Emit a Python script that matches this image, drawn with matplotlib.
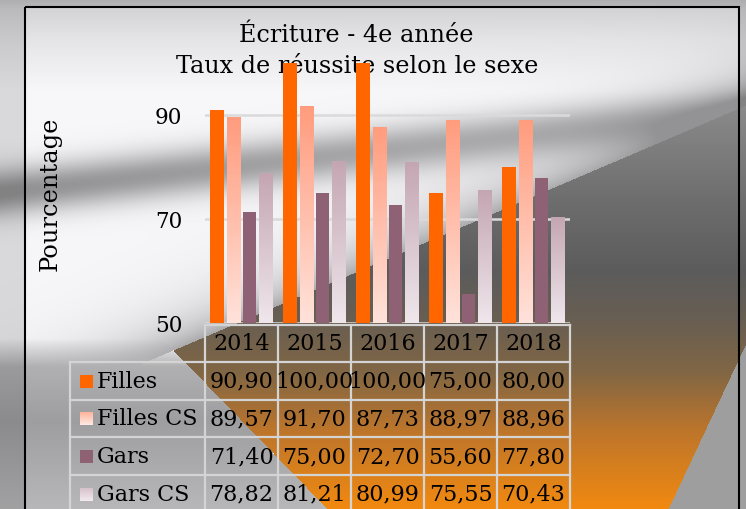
import numpy as np
import matplotlib
matplotlib.use('Agg')
import matplotlib.pyplot as plt
from matplotlib.patches import Rectangle

years = ['2014', '2015', '2016', '2017', '2018']
series = ['Filles', 'Filles CS', 'Gars', 'Gars CS']
filles = [90.90, 100.00, 100.00, 75.00, 80.00]
filles_cs = [89.57, 91.70, 87.73, 88.97, 88.96]
gars = [71.40, 75.00, 72.70, 55.60, 77.80]
gars_cs = [78.82, 81.21, 80.99, 75.55, 70.43]
values = [filles, filles_cs, gars, gars_cs]

# bar styles: (top colour, bottom colour) -> gradient when different
bar_cols = [('#ff6600', '#ff6600'), ('#ff9c7e', '#ffe2da'),
            ('#8e6274', '#8e6274'), ('#c4a6b2', '#efe6ec')]
legend_cols = [('#ff6600', '#ff6600'), ('#ffb49c', '#ffeae4'),
               ('#8e6274', '#8e6274'), ('#d6c2ca', '#f2eaee')]

W, H = 746, 509
plt.rcParams['font.family'] = ['DejaVu Serif']
fig = plt.figure(figsize=(W / 100, H / 100), dpi=100)


def vgrad(top, bot, n=64):
    t = np.array(matplotlib.colors.to_rgb(top))
    b = np.array(matplotlib.colors.to_rgb(bot))
    return np.linspace(0, 1, n)[:, None, None] * (b - t) + t


def background():
    yy, xx = np.mgrid[0:H, 0:W].astype(float)
    g = np.interp(yy, [0, 8, 40, 90, 509], [0.78, 0.83, 0.90, 0.97, 0.97])
    # soft grey swoosh, fading toward the right
    yb = 192 - 0.11 * xx
    depth = 0.40 - 0.18 * xx / W
    g = g - depth * np.exp(-((yy - yb) / 24) ** 2)
    # upper edge of the dark wedge
    y1 = 350 - 0.4276 * (xx - 173)
    d1 = y1 - yy
    g = g - np.where(d1 > 0, 0.30 * np.exp(-d1 / 30), 0)
    g = np.maximum(g, 0.58)
    below = d1 <= 0
    x2 = 173 + (yy - 350) / 1.03
    # grey lower-left area
    t = np.clip((yy - 338) / 28, 0, 1) * (xx < x2)
    gl = np.interp(yy, [360, 420, 509], [0.70, 0.62, 0.72])
    g = g * (1 - t) + gl * t
    img = np.dstack([g, g, g * 1.01])
    # wedge
    x3 = np.where(yy < 343, 9999, 746 - (yy - 343) * 78 / 166)
    wedge = below & (xx > x2) & (xx < x3)
    ys = [100, 200, 270, 320, 370, 430, 509]
    r = np.interp(yy, ys, [0.55, 0.43, 0.36, 0.41, 0.50, 0.74, 0.95])
    gg = np.interp(yy, ys, [0.55, 0.43, 0.36, 0.37, 0.40, 0.46, 0.54])
    b = np.interp(yy, ys, [0.55, 0.43, 0.36, 0.32, 0.27, 0.17, 0.06])
    img = np.where(wedge[..., None], np.dstack([r, gg, b]), img)
    right = below & (xx >= x3)
    img = np.where(right[..., None], 0.62, img)
    # outside the frame
    outside = (xx < 25) | (xx > 739) | (yy < 7)
    img = np.where((outside & ~wedge & ~right)[..., None],
                   np.clip(img * 0.88, 0, 1), img)
    return np.clip(img, 0, 1)


bg = fig.add_axes([0, 0, 1, 1], zorder=0)
bg.imshow(background(), extent=(0, W, H, 0), aspect='auto', interpolation='bilinear')
bg.set_xlim(0, W)
bg.set_ylim(H, 0)
bg.axis('off')
bg.add_patch(Rectangle((25, 7), 714, 520, fill=False, ec='black', lw=1.5))

# titles
fig.text(356 / W, 1 - 42 / H, 'Écriture - 4e année', ha='center', va='baseline',
         fontsize=17.2, zorder=0.5)
fig.text(357 / W, 1 - 73 / H, 'Taux de réussite selon le sexe', ha='center',
         va='baseline', fontsize=17.2, zorder=0.5)
fig.text(50 / W, 1 - 194 / H, 'Pourcentage', rotation=90, ha='center',
         va='center', fontsize=17.4, zorder=0.5)

ax = fig.add_axes([205 / W, 1 - 323 / H, 365 / W, 260 / H], zorder=1)
ax.patch.set_visible(False)
x = np.arange(len(years))
bw = 0.185
for i, vals in enumerate(values):
    top, bot = bar_cols[i]
    bars = ax.bar(x + (i - 1.5) * 0.225, vals, bw, color=top, zorder=2)
    if top != bot:
        grad = vgrad(top, bot)
        for rect in bars:
            rect.set_facecolor('none')
            x0 = rect.get_x()
            im = ax.imshow(grad, extent=(x0, x0 + rect.get_width(), 50, rect.get_height()),
                           aspect='auto', zorder=2, origin='upper')
            im.set_clip_path(rect)
ax.set_xlim(-0.5, 4.5)
ax.set_ylim(50, 100)
ax.set_yticks([50, 70, 90])
ax.set_xticks([])
ax.yaxis.grid(True, color='#dadada', lw=1.8)
ax.set_axisbelow(True)
ax.tick_params(axis='y', length=0, pad=16.5, labelsize=15.5)
for s in ax.spines.values():
    s.set_visible(False)

# data table
ov = fig.add_axes([0, 0, 1, 1], zorder=2)
ov.patch.set_visible(False)
ov.set_xlim(0, W)
ov.set_ylim(H, 0)
ov.axis('off')
lc = '#d4d4d4'
col_x = [205 + 73 * k for k in range(6)]
row_y = [325, 362, 399.5, 437, 475, 512.5]
for cx in col_x:
    ov.plot([cx, cx], [row_y[0], row_y[-1]], color=lc, lw=1.6)
ov.plot([70, 70], [row_y[1], row_y[-1]], color=lc, lw=1.6)
ov.plot([205, 570], [row_y[0], row_y[0]], color=lc, lw=1.6)
for ry in row_y[1:-1]:
    ov.plot([70, 570], [ry, ry], color=lc, lw=1.6)
for k, yr in enumerate(years):
    ov.text((col_x[k] + col_x[k + 1]) / 2, (row_y[0] + row_y[1]) / 2 + 1, yr,
            ha='center', va='center', fontsize=16)
for i, name in enumerate(series):
    yc = (row_y[i + 1] + row_y[i + 2]) / 2 + 1
    ov.imshow(vgrad(*legend_cols[i]), extent=(80, 93, yc + 6, yc - 7),
              aspect='auto', zorder=3)
    ov.text(97, yc, name, ha='left', va='center', fontsize=16)
    for k, v in enumerate(values[i]):
        ov.text((col_x[k] + col_x[k + 1]) / 2, yc, f'{v:.2f}'.replace('.', ','),
                ha='center', va='center', fontsize=16)
ov.set_xlim(0, W)
ov.set_ylim(H, 0)

fig.savefig('out.png', dpi=100)
